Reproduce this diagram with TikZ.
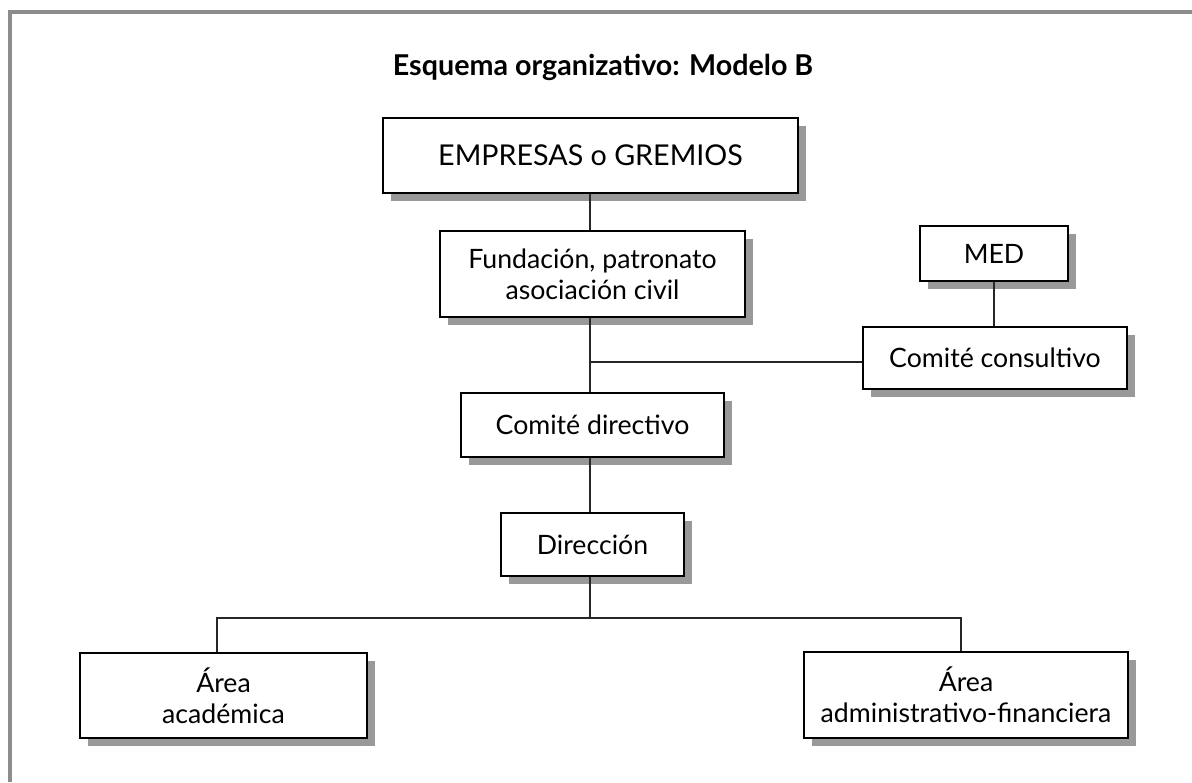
\documentclass[tikz,border=0pt]{standalone}
\usepackage{fontspec}
\setmainfont{Lato}
\usetikzlibrary{shadows}
\begin{document}
\begin{tikzpicture}[x=0.75pt,y=-0.75pt,
  orgbox/.style={draw=black, line width=1.1pt, fill=white, inner sep=0pt,
    align=center, font=\fontsize{20}{23}\selectfont,
    drop shadow={shadow xshift=6pt, shadow yshift=-6pt, fill=black!40, opacity=1}},
  link/.style={draw=black!85, line width=1pt},
  frameline/.style={draw=black!45, line width=2.4pt}]
\useasboundingbox (0,0) rectangle (1192,782);
\fill[white] (0,0) rectangle (1192,782);
% page frame (top and left edges)
\draw[frameline] (10,782) -- (10,12) -- (1192,12);

% title
\node[font=\bfseries\fontsize{21.5}{25}\selectfont] (title) at (603,67) {Esquema organizativo: Modelo B};

% boxes
\node[orgbox, minimum width=415*0.75pt, minimum height=75*0.75pt, font=\fontsize{21.5}{25}\selectfont] (emp) at (590.5,155.5) {EMPRESAS o GREMIOS};
\node[orgbox, minimum width=305*0.75pt, minimum height=86*0.75pt] (fund) at (592.5,274) {Fundación, patronato\\asociación civil};
\node[orgbox, minimum width=148*0.75pt, minimum height=55*0.75pt] (med) at (994,253.5) {MED};
\node[orgbox, minimum width=264*0.75pt, minimum height=62*0.75pt] (cons) at (995,358) {Comité consultivo};
\node[orgbox, minimum width=263*0.75pt, minimum height=64*0.75pt] (cdir) at (592.5,425) {Comité directivo};
\node[orgbox, minimum width=183*0.75pt, minimum height=63*0.75pt] (direc) at (592.5,544.5) {Dirección};
\node[orgbox, minimum width=287*0.75pt, minimum height=85*0.75pt] (acad) at (223.5,695.5) {Área\\académica};
\node[orgbox, minimum width=324*0.75pt, minimum height=86*0.75pt] (adm) at (966,695) {Área\\administrativo-financiera};

% junction points
\coordinate (spine) at (590,0);
\coordinate (jc) at (590,362);
\coordinate (jd) at (590,618);
\coordinate (bl) at (217,618);
\coordinate (br) at (961,618);

% connectors
\draw[link] (spine |- emp.south) -- (spine |- fund.north);
\draw[link] (spine |- fund.south) -- (spine |- cdir.north);
\draw[link] (jc) -- (jc -| cons.west);
\draw[link] (med.south) -- (med.south |- cons.north);
\draw[link] (spine |- cdir.south) -- (spine |- direc.north);
\draw[link] (spine |- direc.south) -- (jd);
\draw[link] (bl |- acad.north) -- (bl) -- (br) -- (br |- adm.north);
\end{tikzpicture}
\end{document}
